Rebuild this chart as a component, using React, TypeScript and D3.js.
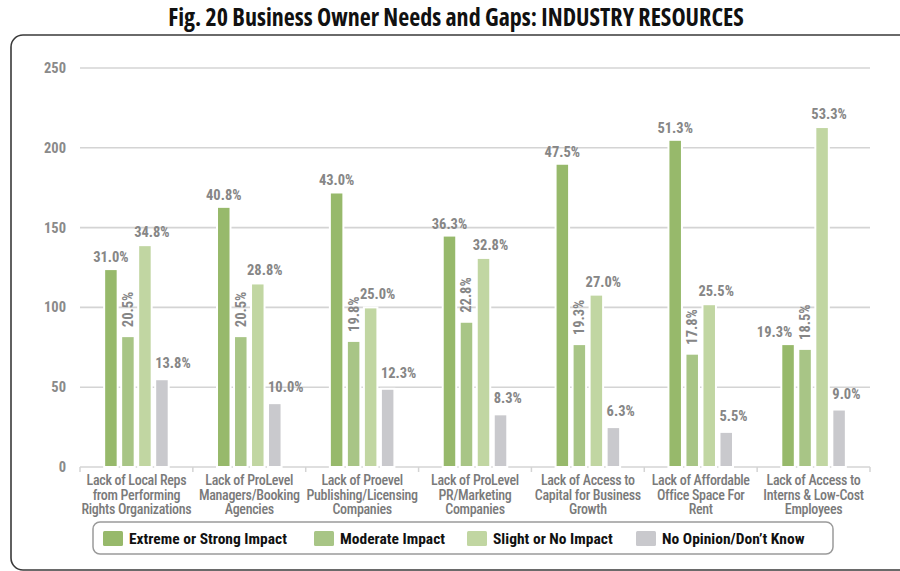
import React from "react";
import * as d3 from "d3";

// ---- data ----
const categories: string[][] = [
  ["Lack of Local Reps", "from Performing", "Rights Organizations"],
  ["Lack of ProLevel", "Managers/Booking", "Agencies"],
  ["Lack of Proevel", "Publishing/Licensing", "Companies"],
  ["Lack of ProLevel", "PR/Marketing", "Companies"],
  ["Lack of Access to", "Capital for Business", "Growth"],
  ["Lack of Affordable", "Office Space For", "Rent"],
  ["Lack of Access to", "Interns & Low-Cost", "Employees"],
];
const seriesNames = ["Extreme or Strong Impact", "Moderate Impact", "Slight or No Impact", "No Opinion/Don\u2019t Know"];
const extremeCounts = [124, 163, 172, 145, 190, 205, 77];
const moderateCounts = [82, 82, 79, 91, 77, 71, 74];
const slightCounts = [139, 115, 100, 131, 108, 102, 213];
const noOpinionCounts = [55, 40, 49, 33, 25, 22, 36];
const extremeLabels = ["31.0%", "40.8%", "43.0%", "36.3%", "47.5%", "51.3%", "19.3%"];
const moderateLabels = ["20.5%", "20.5%", "19.8%", "22.8%", "19.3%", "17.8%", "18.5%"];
const slightLabels = ["34.8%", "28.8%", "25.0%", "32.8%", "27.0%", "25.5%", "53.3%"];
const noOpinionLabels = ["13.8%", "10.0%", "12.3%", "8.3%", "6.3%", "5.5%", "9.0%"];
const yTicks = [0, 50, 100, 150, 200, 250];
const title = "Fig. 20 Business Owner Needs and Gaps: INDUSTRY RESOURCES";

const colors = ["#97b96b", "#a8c586", "#c1d6a2", "#c9c9cd"];
const FONT = "Roboto, sans-serif";
const TITLE_FONT = "'Open Sans', sans-serif";
const COND = { fontStretch: "condensed" } as React.CSSProperties;
const SEMI = { fontStretch: "semi-condensed" } as React.CSSProperties;

export default function App() {
  const W = 900, H = 571;
  const left = 80, right = 870, top = 68, bottom = 467;
  const seriesCounts = [extremeCounts, moderateCounts, slightCounts, noOpinionCounts];
  const seriesLabels = [extremeLabels, moderateLabels, slightLabels, noOpinionLabels];

  const x0 = d3.scaleBand<number>().domain(d3.range(categories.length)).range([left, right]).paddingInner(0).paddingOuter(0);
  const x1 = d3.scaleBand<number>().domain(d3.range(4)).range([0, x0.bandwidth()]).paddingInner(0.206).paddingOuter(1.42);
  const y = d3.scaleLinear().domain([0, 250]).range([bottom, top]);
  const bw = x1.bandwidth();

  const legendX = [103, 314, 467, 636];
  const boundaries = d3.range(categories.length + 1).map((i) => left + i * x0.step());

  return (
    <svg width={W} height={H} style={{ position: "absolute", left: 0, top: 0, background: "#fff" }} fontFamily={FONT}>
      <rect x={0} y={0} width={W} height={H} fill="#fff" />
      <text x={456} y={26} textAnchor="middle" fontSize={24} fontWeight="bold" fill="#111" fontFamily={TITLE_FONT} style={COND}>{title}</text>
      <rect x={11} y={35} width={905} height={535} rx={12} fill="none" stroke="#3a3a3a" strokeWidth={1.6} />

      {/* gridlines */}
      {yTicks.map((t) => (
        <g key={t}>
          <line x1={left} x2={right} y1={y(t)} y2={y(t)} stroke="#d4d4d4" strokeWidth={1.6} />
          <text x={66} y={y(t) + 5} textAnchor="end" fontSize={14.5} fontWeight="bold" fill="#8a8a8a" style={SEMI}>{t}</text>
        </g>
      ))}
      {boundaries.map((bx, i) => (
        <line key={i} x1={bx} x2={bx} y1={bottom} y2={bottom + 5} stroke="#d4d4d4" strokeWidth={1.5} />
      ))}

      {/* bars */}
      {categories.map((_, ci) => (
        <g key={ci} transform={`translate(${x0(ci)},0)`}>
          {seriesCounts.map((arr, si) => (
            <rect key={si} x={x1(si)} y={y(arr[ci])} width={bw} height={y(0) - y(arr[ci])}
              fill={colors[si]} stroke="#fff" strokeWidth={2} />
          ))}
        </g>
      ))}

      {/* labels */}
      {categories.map((_, ci) => {
        const bx = (si: number) => (x0(ci) as number) + (x1(si) as number);
        const modTop = y(moderateCounts[ci]) - 9;
        const modTextTop = modTop - 36;
        const exBase = y(extremeCounts[ci]) - 7;
        const collide = exBase > modTextTop && exBase - 12 < modTop;
        return (
          <g key={ci} fontSize={14.5} fontWeight="bold" fill="#868686" style={SEMI}>
            {collide ? (
              <text x={bx(1) - 6} y={exBase} textAnchor="end">{seriesLabels[0][ci]}</text>
            ) : (
              <text x={bx(0) + bw / 2} y={exBase} textAnchor="middle">{seriesLabels[0][ci]}</text>
            )}
            <text transform={`translate(${bx(1) + bw / 2 + 5},${modTop}) rotate(-90)`} textAnchor="start">{seriesLabels[1][ci]}</text>
            <text x={bx(2) - 4} y={y(slightCounts[ci]) - 8} textAnchor="start">{seriesLabels[2][ci]}</text>
            <text x={bx(3)} y={y(noOpinionCounts[ci]) - 11} textAnchor="start">{seriesLabels[3][ci]}</text>
          </g>
        );
      })}

      {/* category labels */}
      {categories.map((lines, ci) => (
        <text key={ci} textAnchor="middle" fontSize={14} fontWeight={500} fill="#7a7a7a" letterSpacing={-0.3} style={COND}>
          {lines.map((ln, li) => (
            <tspan key={li} x={(x0(ci) as number) + x0.bandwidth() / 2} y={485 + li * 14.5}>{ln}</tspan>
          ))}
        </text>
      ))}

      {/* legend */}
      <rect x={93} y={522} width={740} height={32} rx={7} fill="#fff" stroke="#9a9a9a" strokeWidth={1.5} />
      {seriesNames.map((n, i) => (
        <g key={i}>
          <rect x={legendX[i]} y={531} width={20} height={15} rx={1.5} fill={colors[i]} />
          <text x={legendX[i] + 26} y={544} fontSize={15.5} fontWeight="bold" fill="#111" style={COND}>{n}</text>
        </g>
      ))}
    </svg>
  );
}
